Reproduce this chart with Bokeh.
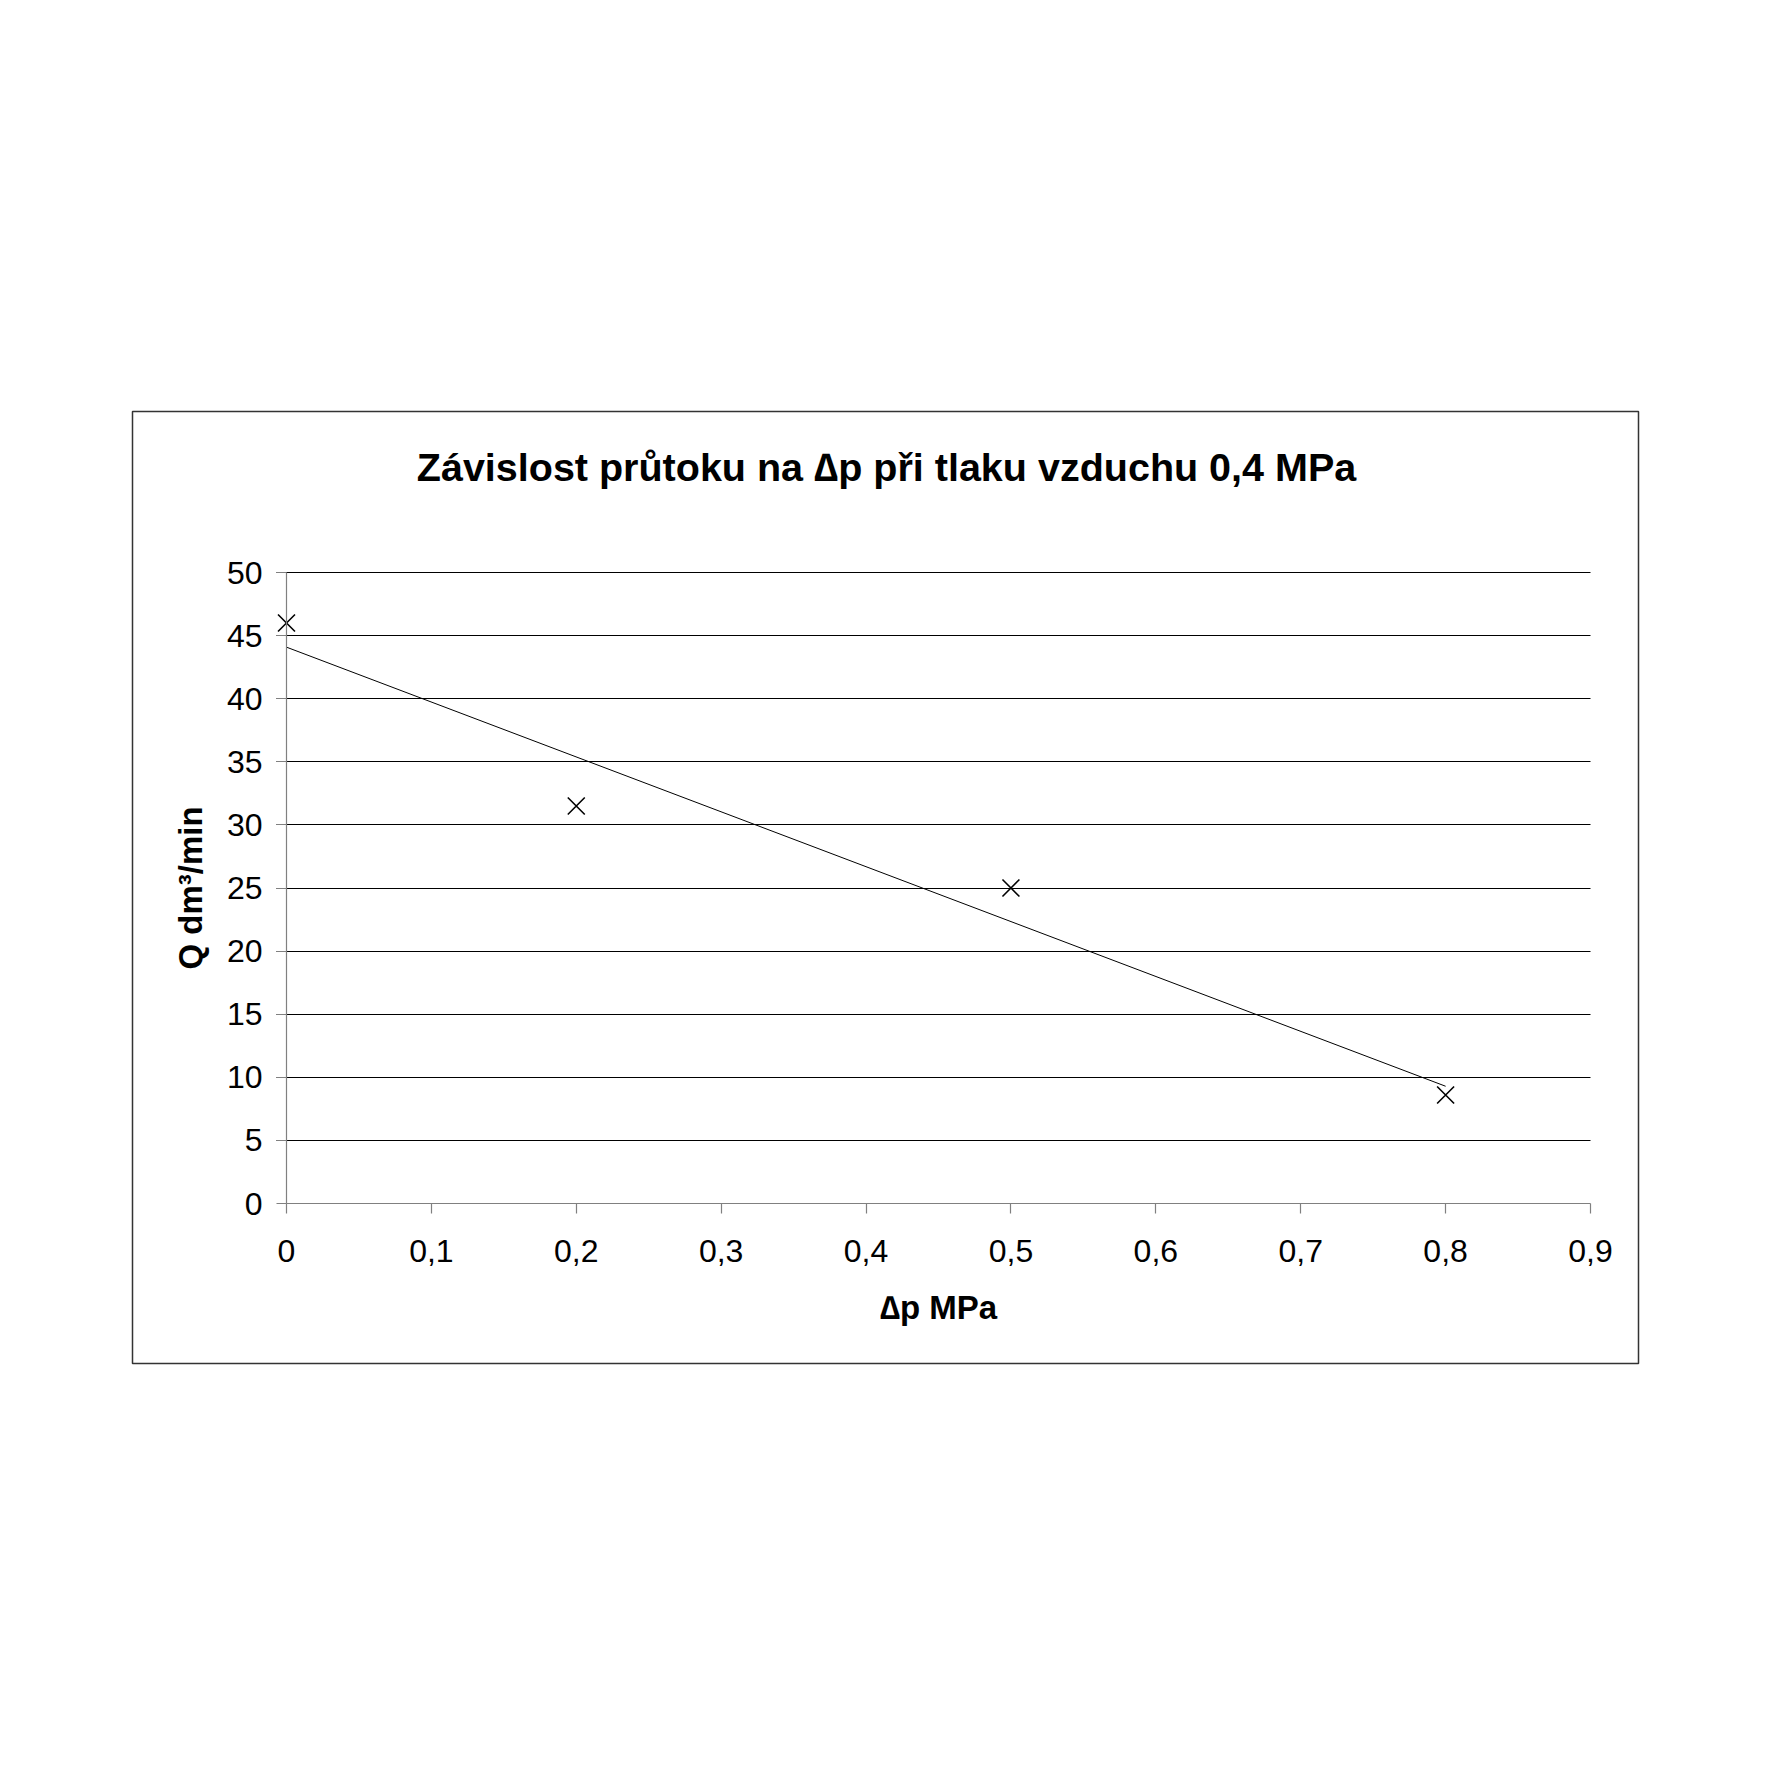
import numpy as np
from bokeh.plotting import figure
from bokeh.models import Range1d, FixedTicker, Label
from bokeh.embed import file_html
from bokeh.resources import INLINE

# data
dp = [0.0, 0.2, 0.5, 0.8]
flow = [46.0, 31.5, 25.0, 8.6]
x_ticks = [0.0, 0.1, 0.2, 0.3, 0.4, 0.5, 0.6, 0.7, 0.8, 0.9]
x_tick_labels = ["0", "0,1", "0,2", "0,3", "0,4", "0,5", "0,6", "0,7", "0,8", "0,9"]
y_ticks = [0, 5, 10, 15, 20, 25, 30, 35, 40, 45, 50]
title_text = "Závislost průtoku na \u2206p při tlaku vzduchu 0,4 MPa"
x_label = "\u2206p MPa"
y_label = "Q dm\u00b3/min"

FONT = "Liberation Sans"

# layout (pixels on the page): chart box and plot area
BOX_L, BOX_T, BOX_R, BOX_B = 132, 411, 1638, 1363
AREA_L, AREA_T, AREA_R, AREA_B = 286, 572, 1590, 1203
X0, X1 = x_ticks[0], x_ticks[-1]
Y0, Y1 = y_ticks[0], y_ticks[-1]
px_x = (AREA_R - AREA_L) / (X1 - X0)
px_y = (AREA_B - AREA_T) / (Y1 - Y0)
x_start = X0 - (AREA_L - BOX_L) / px_x
x_end = X1 + (BOX_R - AREA_R) / px_x
y_start = Y0 - (BOX_B - AREA_B) / px_y
y_end = Y1 + (AREA_T - BOX_T) / px_y

W = H = 1757
p = figure(width=W, height=H, output_backend="svg", toolbar_location=None,
           x_range=Range1d(x_start, x_end), y_range=Range1d(y_start, y_end),
           min_border_left=BOX_L, min_border_top=BOX_T,
           min_border_right=W - BOX_R, min_border_bottom=H - BOX_B)
p.outline_line_color = "#333333"
p.outline_line_width = 1.5
p.background_fill_color = "white"
p.border_fill_color = "white"

# trendline (linear least squares of the measured points)
k, q = np.polyfit(dp, flow, 1)
tx = [min(dp), max(dp)]
p.line(tx, [k * v + q for v in tx], line_color="black", line_width=1)

p.scatter(dp, flow, marker="x", size=24, line_color="black", line_width=1.6)

for ax in (p.xaxis[0], p.yaxis[0]):
    ax.fixed_location = 0
    ax.axis_line_color = "#808080"
    ax.axis_line_width = 1.2
    ax.major_tick_line_color = "#808080"
    ax.major_tick_line_width = 1.2
    ax.major_tick_out = 10
    ax.major_tick_in = 0
    ax.minor_tick_line_color = None
    ax.major_label_text_font = FONT
    ax.major_label_text_font_size = "32px"
    ax.major_label_text_color = "black"
    ax.axis_label_text_font = FONT
    ax.axis_label_text_font_style = "bold"
    ax.axis_label_text_font_size = "33px"
    ax.axis_label_text_color = "black"

p.xaxis.bounds = (X0, X1)
p.yaxis.bounds = (Y0, Y1)
p.xaxis.ticker = FixedTicker(ticks=x_ticks)
p.xaxis.major_label_overrides = {t: s for t, s in zip(x_ticks, x_tick_labels)}
p.yaxis.ticker = FixedTicker(ticks=y_ticks)
p.xaxis.axis_label = x_label
p.yaxis.axis_label = y_label
p.xaxis.major_label_standoff = 26
p.yaxis.major_label_standoff = 14
p.xaxis.axis_label_standoff = 24
p.yaxis.axis_label_standoff = 15

p.xgrid.grid_line_color = None
p.ygrid.ticker = FixedTicker(ticks=y_ticks[1:])
p.ygrid.grid_line_color = "black"
p.ygrid.grid_line_width = 1
p.ygrid.cross_bounds = (X0 - 10 / px_x, X1)

p.add_layout(Label(x=X0 + (886 - AREA_L) / px_x, y=Y0 + (AREA_B - 466) / px_y,
                   text=title_text, text_align="center",
                   text_baseline="alphabetic", text_font=FONT, text_font_style="bold",
                   text_font_size="39.5px", text_color="black"))

open("out.html", "w").write(file_html(p, INLINE))
